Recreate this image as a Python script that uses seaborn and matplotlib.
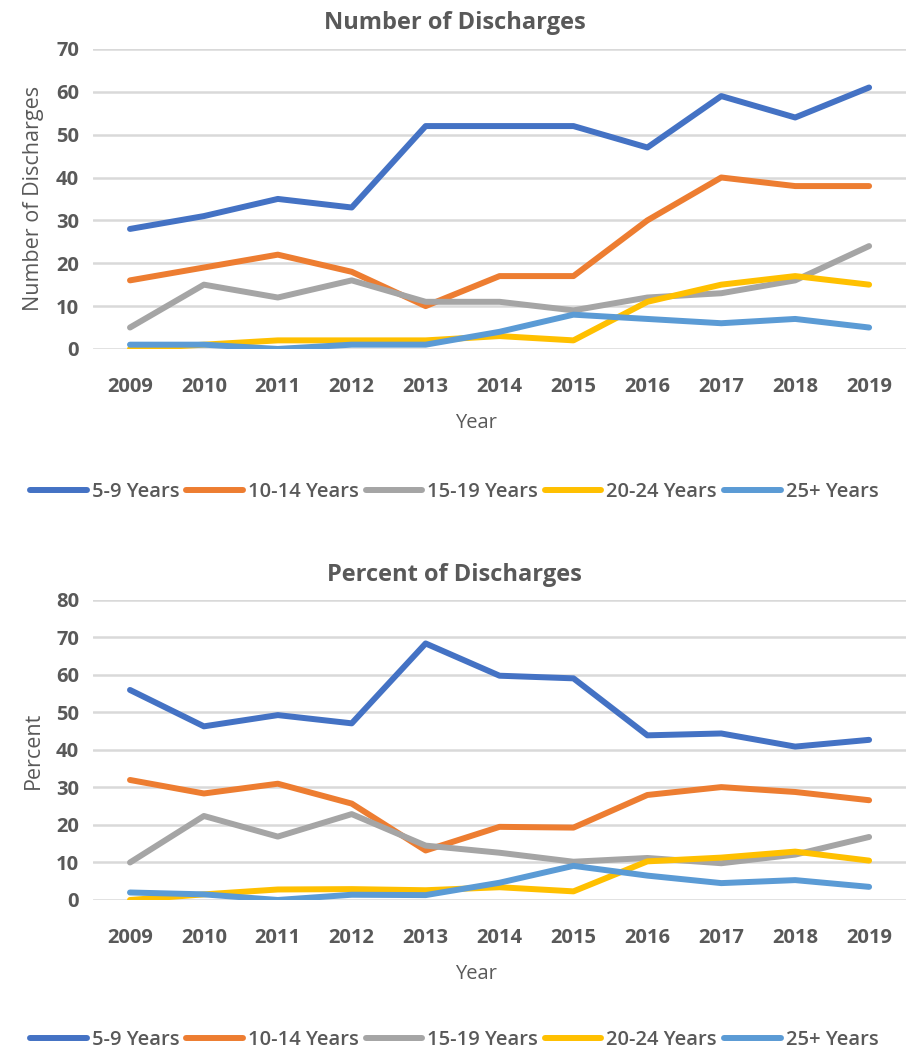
import matplotlib
matplotlib.use("Agg")
import matplotlib.pyplot as plt
import seaborn as sns
import pandas as pd

years = [2009, 2010, 2011, 2012, 2013, 2014, 2015, 2016, 2017, 2018, 2019]
groups = ["5-9 Years", "10-14 Years", "15-19 Years", "20-24 Years", "25+ Years"]

count_5_9 = [28, 31, 35, 33, 52, 52, 52, 47, 59, 54, 61]
count_10_14 = [16, 19, 22, 18, 10, 17, 17, 30, 40, 38, 38]
count_15_19 = [5, 15, 12, 16, 11, 11, 9, 12, 13, 16, 24]
count_20_24 = [0, 1, 2, 2, 2, 3, 2, 11, 15, 17, 15]
count_25_plus = [1, 1, 0, 1, 1, 4, 8, 7, 6, 7, 5]

pct_5_9 = [56.0, 46.3, 49.3, 47.1, 68.4, 59.8, 59.1, 43.9, 44.4, 40.9, 42.7]
pct_10_14 = [32.0, 28.4, 31.0, 25.7, 13.2, 19.5, 19.3, 28.0, 30.1, 28.8, 26.6]
pct_15_19 = [10.0, 22.4, 16.9, 22.9, 14.5, 12.6, 10.2, 11.2, 9.8, 12.1, 16.8]
pct_20_24 = [0.0, 1.5, 2.8, 2.9, 2.6, 3.4, 2.3, 10.3, 11.3, 12.9, 10.5]
pct_25_plus = [2.0, 1.5, 0.0, 1.4, 1.3, 4.6, 9.1, 6.5, 4.5, 5.3, 3.5]

palette = ["#4472C4", "#ED7D31", "#A5A5A5", "#FFC000", "#5B9BD5"]

sns.set_style("white")
plt.rcParams["font.family"] = ["Open Sans", "DejaVu Sans"]

TEXT = "#595959"
GRID = "#D9D9D9"
LW = 4.3


def long_frame(series):
    rows = []
    for name, vals in zip(groups, series):
        for y, v in zip(years, vals):
            rows.append({"Year": y, "Group": name, "Value": v})
    return pd.DataFrame(rows)


def draw(ax, df, title, ylabel, ymax):
    sns.lineplot(data=df, x="Year", y="Value", hue="Group", hue_order=groups,
                 palette=palette, linewidth=LW, ax=ax, legend=False,
                 solid_capstyle="round", solid_joinstyle="round")
    ax.set_xlim(years[0] - 0.5, years[-1] + 0.5)
    ax.set_ylim(0, ymax)
    ax.set_yticks(range(0, ymax + 1, 10))
    ax.set_xticks(years)
    ax.yaxis.grid(True, color=GRID, linewidth=1.8)
    ax.set_axisbelow(True)
    for s in ["top", "right", "left", "bottom"]:
        ax.spines[s].set_visible(False)
    ax.tick_params(axis="both", length=0, labelsize=14.5, colors=TEXT)
    ax.tick_params(axis="x", pad=20)
    ax.tick_params(axis="y", pad=10)
    for lab in ax.get_xticklabels() + ax.get_yticklabels():
        lab.set_fontweight("bold")
    ax.set_title(title, fontsize=17, fontweight="bold", color=TEXT, pad=14, x=0.445)
    ax.set_xlabel("Year", fontsize=14.5, color=TEXT, labelpad=12)
    ax.xaxis.label.set_x(0.471)
    ax.set_ylabel(ylabel, fontsize=15.5, color=TEXT, labelpad=9)


fig = plt.figure(figsize=(9.14, 10.52), dpi=100)
ax1 = fig.add_axes([0.1018, 0.6683, 0.8895, 0.2852])
ax2 = fig.add_axes([0.1018, 0.1445, 0.8895, 0.2852])

draw(ax1, long_frame([count_5_9, count_10_14, count_15_19, count_20_24, count_25_plus]),
     "Number of Discharges", "Number of Discharges", 70)
draw(ax2, long_frame([pct_5_9, pct_10_14, pct_15_19, pct_20_24, pct_25_plus]),
     "Percent of Discharges", "Percent", 80)

handles = [plt.Line2D([], [], color=c, linewidth=LW, solid_capstyle="round") for c in palette]
for ypos in (0.532, 0.0114):
    leg = fig.legend(handles, groups, loc="center", bbox_to_anchor=(0.497, ypos), ncol=5,
                     frameon=False, fontsize=14.5, handlelength=2.8, handletextpad=0.25,
                     columnspacing=0.35)
    for t in leg.get_texts():
        t.set_color(TEXT)
        t.set_fontweight("semibold")

fig.savefig("out.png", dpi=100)
